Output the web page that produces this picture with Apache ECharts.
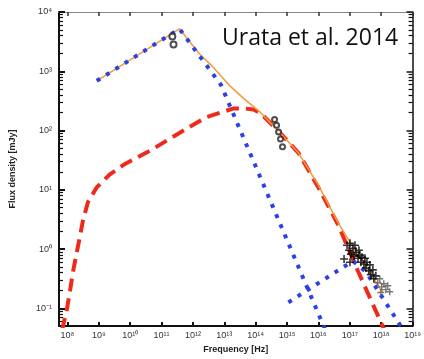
<!DOCTYPE html>
<html>
<head>
<meta charset="utf-8">
<script src="https://cdn.jsdelivr.net/npm/echarts@6/dist/echarts.min.js"></script>
<style>
  html, body { margin: 0; padding: 0; background: #fff; }
  #chart { width: 424px; height: 359px; }
</style>
</head>
<body>
<div id="chart"></div>
<script>
// Broadband spectral energy distribution: frequency [Hz] vs flux density [mJy]

const freqTicks = [1e8, 1e9, 1e10, 1e11, 1e12, 1e13, 1e14, 1e15, 1e16, 1e17, 1e18, 1e19];
const fluxTicks = [1e-1, 1, 10, 100, 1e3, 1e4];

// model component 1 (blue dotted)
const compA = [[8.6e8, 690], [3.7e11, 5200], [7.8e12, 590], [2.0e16, 0.034]];
// model component 2 (blue dotted, high frequency)
const compB = [[1.1e15, 0.126], [1.26e17, 0.63], [3.3e17, 0.41], [5.2e18, 0.042]];
// model component 3 (red dashed)
const compC = [
  [6.7e7, 0.042], [9.7e7, 0.10], [1.21e8, 0.20], [1.5e8, 0.41], [1.87e8, 0.76],
  [2.5e8, 1.63], [3.1e8, 3.0], [4.5e8, 6.2], [8.6e8, 11], [2.2e9, 18],
  [6.6e9, 27], [4.1e10, 45], [3.7e11, 91], [2.6e12, 167], [9.7e12, 210],
  [2.0e13, 236], [4.2e13, 236], [8.6e13, 227], [1.44e14, 195], [5.3e14, 98],
  [2.3e15, 42], [9.9e15, 11], [4.2e16, 2.6], [1.8e17, 0.43], [1.4e18, 0.038]
];
// total model (orange)
const total = [
  [8.6e8, 690], [3.7e11, 5200], [1.57e12, 2000], [3.8e12, 1270], [1.6e13, 550],
  [4.2e13, 345], [1.44e14, 200], [5.3e14, 98], [2.3e15, 42], [9.9e15, 12],
  [4.2e16, 2.8], [2.1e17, 0.70], [1.12e18, 0.185]
];

// observed fluxes
const mmObs = [[2.2e11, 3850], [2.4e11, 2830]];
const opticalObs = [[3.99e14, 154], [4.62e14, 123], [5.35e14, 94], [6.18e14, 72], [7.15e14, 53]];
const xrayObs = [
  [6.55e16, 0.68], [8.15e16, 1.16], [9.44e16, 0.955], [1.01e17, 1.25], [1.01e17, 0.60],
  [1.09e17, 0.82], [1.26e17, 1.03], [1.36e17, 0.76], [1.46e17, 1.16], [1.57e17, 0.885],
  [1.82e17, 0.70], [1.95e17, 0.955], [2.10e17, 0.79], [2.26e17, 0.60], [2.43e17, 0.73],
  [2.81e17, 0.56], [3.03e17, 0.70], [3.26e17, 0.48], [3.50e17, 0.60], [4.05e17, 0.43],
  [4.36e17, 0.54], [4.69e17, 0.37], [5.42e17, 0.445], [5.83e17, 0.315], [6.75e17, 0.353]
];
const xrayHard = [
  [7.80e17, 0.27], [9.04e17, 0.315], [9.70e17, 0.185], [1.04e18, 0.23], [1.21e18, 0.26],
  [1.40e18, 0.207], [1.62e18, 0.24], [1.87e18, 0.19]
];

const X_MIN = Math.pow(10, 7.73), X_MAX = 1e19;
const Y_MIN = Math.pow(10, -1.3), Y_MAX = 1e4;

const SUP = { '-': '\u207B', '0': '\u2070', '1': '\u00B9', '2': '\u00B2', '3': '\u00B3',
  '4': '\u2074', '5': '\u2075', '6': '\u2076', '7': '\u2077', '8': '\u2078', '9': '\u2079' };
function pow10Label(v) {
  const n = String(Math.round(Math.log10(v)));
  return '10' + n.split('').map(c => SUP[c]).join('');
}

// minor ticks at 2..9 x each decade
function minorTicks(lo, hi) {
  const out = [];
  for (let e = Math.floor(Math.log10(lo)); e <= Math.ceil(Math.log10(hi)); e++) {
    for (let k = 2; k <= 9; k++) {
      const v = k * Math.pow(10, e);
      if (v > lo && v < hi) out.push(v);
    }
  }
  return out;
}
const fluxMinor = minorTicks(Y_MIN, Y_MAX);

const labelFont = { fontFamily: 'Liberation Sans', fontSize: 9, color: '#333' };
const plusSymbol = 'path://M0,4h10v2h-10z M4,0h2v10h-2z';

function tickAxis(position, values, len, width, lineShow) {
  return {
    type: 'log', min: Y_MIN, max: Y_MAX, splitNumber: 6, position: position,
    axisLine: { show: lineShow, lineStyle: { color: '#111', width: 1.5 } },
    axisTick: { show: true, inside: true, length: len, customValues: values,
      lineStyle: { color: '#111', width: width } },
    axisLabel: { show: false },
    splitLine: { show: false }
  };
}

const chart = echarts.init(document.getElementById('chart'), null, { renderer: 'canvas' });
chart.setOption({
  animation: false,
  backgroundColor: '#fff',
  grid: { left: 59, right: 9, top: 12, bottom: 28 },
  xAxis: [
    {
      type: 'log', min: X_MIN, max: X_MAX, splitNumber: 11,
      name: 'Frequency [Hz]', nameLocation: 'middle', nameGap: 18,
      nameTextStyle: { fontFamily: 'Liberation Sans', fontSize: 9, fontWeight: 'bold', color: '#222' },
      axisLine: { lineStyle: { color: '#111', width: 2 } },
      axisTick: { inside: true, length: 4, customValues: freqTicks, lineStyle: { color: '#111', width: 2 } },
      axisLabel: Object.assign({ customValues: freqTicks, formatter: pow10Label, margin: 5 }, labelFont),
      splitLine: { show: false }
    },
    {
      type: 'log', min: X_MIN, max: X_MAX, splitNumber: 11, position: 'top',
      axisLine: { lineStyle: { color: '#888', width: 1 } },
      axisTick: { inside: true, length: 4, customValues: freqTicks, lineStyle: { color: '#333', width: 1.5 } },
      axisLabel: { show: false },
      splitLine: { show: false }
    }
  ],
  yAxis: [
    {
      type: 'log', min: Y_MIN, max: Y_MAX, splitNumber: 6,
      name: 'Flux density [mJy]', nameLocation: 'middle', nameGap: 42,
      nameTextStyle: { fontFamily: 'Liberation Sans', fontSize: 9, fontWeight: 'bold', color: '#222' },
      axisLine: { lineStyle: { color: '#111', width: 2 } },
      axisTick: { inside: true, length: 6, customValues: fluxTicks, lineStyle: { color: '#111', width: 2 } },
      axisLabel: Object.assign({ customValues: fluxTicks, formatter: pow10Label, margin: 7 }, labelFont),
      splitLine: { show: false }
    },
    tickAxis('left', fluxMinor, 4, 1.2, false),
    tickAxis('right', fluxTicks, 6, 1.5, true),
    tickAxis('right', fluxMinor, 4, 1.2, false)
  ],
  series: [
    {
      type: 'line', data: compC, showSymbol: false, z: 2,
      lineStyle: { color: '#ee2a1b', width: 4, type: [13, 7], cap: 'butt' }
    },
    {
      type: 'line', data: total, showSymbol: false, z: 3,
      lineStyle: { color: '#f39a3c', width: 1.5 }
    },
    {
      type: 'line', data: compA, showSymbol: false, z: 4,
      lineStyle: { color: '#2b41e6', width: 4, type: [4, 7], cap: 'butt' }
    },
    {
      type: 'line', data: compB, showSymbol: false, z: 4,
      lineStyle: { color: '#2b41e6', width: 4, type: [4, 7], cap: 'butt' }
    },
    {
      type: 'scatter', data: mmObs, symbol: 'emptyCircle', symbolSize: 6, z: 5,
      itemStyle: { color: '#222', borderColor: '#222', borderWidth: 1.2 }
    },
    {
      type: 'scatter', data: opticalObs, symbol: 'emptyCircle', symbolSize: 5, z: 5,
      itemStyle: { color: '#222', borderColor: '#222', borderWidth: 1.2 }
    },
    {
      type: 'scatter', data: xrayObs, symbol: plusSymbol, symbolSize: 8, z: 5,
      itemStyle: { color: '#000' }
    },
    {
      type: 'scatter', data: xrayHard, symbol: plusSymbol, symbolSize: 7, z: 5,
      itemStyle: { color: '#555' }
    }
  ],
  graphic: [
    {
      type: 'text', left: 222, top: 27, z: 10,
      style: { text: 'Urata et al. 2014', font: '23px "Open Sans"', fill: '#111' }
    }
  ]
});
</script>
</body>
</html>
